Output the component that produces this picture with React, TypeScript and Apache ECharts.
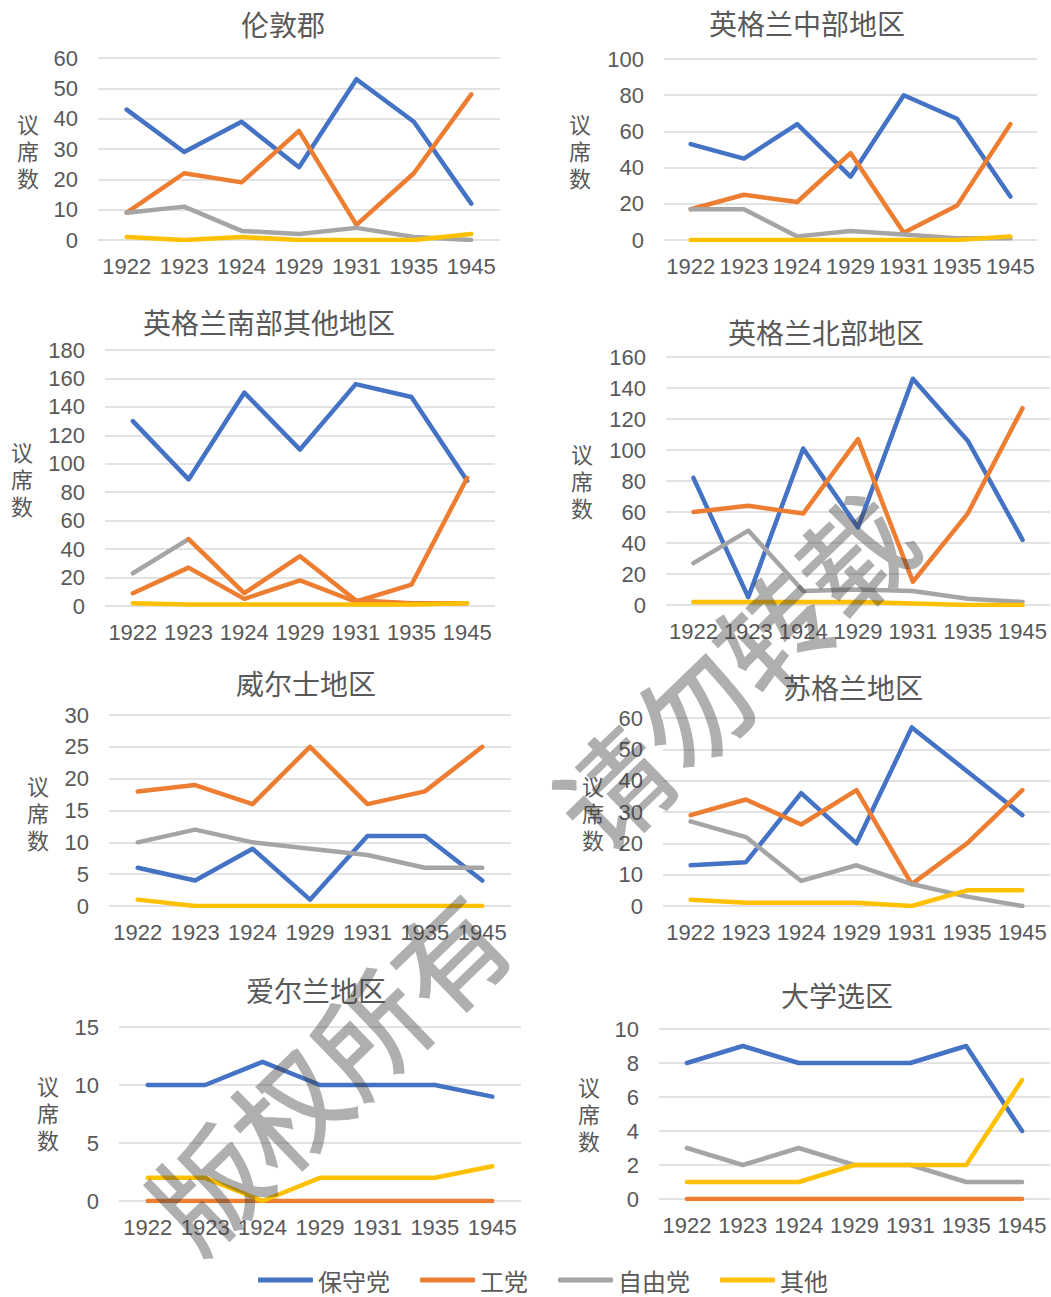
import React, { useEffect, useRef } from "react";
import * as echarts from "echarts";

const years = ["1922", "1923", "1924", "1929", "1931", "1935", "1945"];
const parties = ["保守党", "工党", "自由党", "其他"];
const partyColors = ["#4472C4", "#ED7D31", "#A5A5A5", "#FFC000"];
const regionNames = ["伦敦郡", "英格兰中部地区", "英格兰南部其他地区", "英格兰北部地区", "威尔士地区", "苏格兰地区", "爱尔兰地区", "大学选区"];

const londonCon = [43, 29, 39, 24, 53, 39, 12];
const londonLab = [9, 22, 19, 36, 5, 22, 48];
const londonLib = [9, 11, 3, 2, 4, 1, 0];
const londonOth = [1, 0, 1, 0, 0, 0, 2];

const midlandsCon = [53, 45, 64, 35, 80, 67, 24];
const midlandsLab = [17, 25, 21, 48, 4, 19, 64];
const midlandsLib = [17, 17, 2, 5, 3, 1, 1];
const midlandsOth = [0, 0, 0, 0, 0, 0, 2];

const southCon = [130, 89, 150, 110, 156, 147, 88];
const southLab = [9, 27, 5, 18, 3, 15, 90];
const southLib = [23, 47, 9, 35, 4, 2, 2];
const southOth = [2, 1, 1, 1, 1, 1, 2];

const northCon = [82, 5, 101, 50, 146, 106, 42];
const northLab = [60, 64, 59, 107, 15, 59, 127];
const northLib = [27, 48, 9, 10, 9, 4, 2];
const northOth = [2, 2, 2, 2, 1, 0, 0];

const walesCon = [6, 4, 9, 1, 11, 11, 4];
const walesLab = [18, 19, 16, 25, 16, 18, 25];
const walesLib = [10, 12, 10, 9, 8, 6, 6];
const walesOth = [1, 0, 0, 0, 0, 0, 0];

const scotlandCon = [13, 14, 36, 20, 57, 43, 29];
const scotlandLab = [29, 34, 26, 37, 7, 20, 37];
const scotlandLib = [27, 22, 8, 13, 7, 3, 0];
const scotlandOth = [2, 1, 1, 1, 0, 5, 5];

const irelandCon = [10, 10, 12, 10, 10, 10, 9];
const irelandLab = [0, 0, 0, 0, 0, 0, 0];
const irelandLib = [null, null, null, null, null, null, null];
const irelandOth = [2, 2, 0, 2, 2, 2, 3];

const univCon = [8, 9, 8, 8, 8, 9, 4];
const univLab = [0, 0, 0, 0, 0, 0, 0];
const univLib = [3, 2, 3, 2, 2, 1, 1];
const univOth = [1, 1, 1, 2, 2, 2, 7];

const yMaxes = [60, 100, 180, 160, 30, 60, 15, 10];
const ySteps = [10, 20, 20, 20, 5, 10, 5, 2];
const yAxisNameChars = ["议", "席", "数"];
const watermarkTexts = ["版权所有", "请勿转载"];

const regionData = [
  [londonCon, londonLab, londonLib, londonOth],
  [midlandsCon, midlandsLab, midlandsLib, midlandsOth],
  [southCon, southLab, southLib, southOth],
  [northCon, northLab, northLib, northOth],
  [walesCon, walesLab, walesLib, walesOth],
  [scotlandCon, scotlandLab, scotlandLib, scotlandOth],
  [irelandCon, irelandLab, irelandLib, irelandOth],
  [univCon, univLab, univLib, univOth],
];

// layout (pixels)
const layout = [
  { l: 98, r: 500, t: 58, b: 240, tx: 283, ty: 24, nx: 28, ny: 150 },
  { l: 664, r: 1037, t: 59, b: 240, tx: 807, ty: 23, nx: 580, ny: 150 },
  { l: 105, r: 495, t: 350, b: 606, tx: 269, ty: 322, nx: 22, ny: 478 },
  { l: 666, r: 1050, t: 357, b: 605, tx: 826, ty: 332, nx: 582, ny: 480 },
  { l: 109, r: 511, t: 715, b: 906, tx: 306, ty: 683, nx: 38, ny: 812 },
  { l: 663, r: 1050, t: 718, b: 906, tx: 853, ty: 687, nx: 593, ny: 812 },
  { l: 119, r: 521, t: 1027, b: 1201, tx: 316, ty: 990, nx: 48, ny: 1112 },
  { l: 659, r: 1050, t: 1029, b: 1199, tx: 837, ty: 995, nx: 589, ny: 1113 },
];
const watermarkPos = [
  { x: 326, y: 1068 },
  { x: 731, y: 668 },
];

const FONT = "'Liberation Sans', 'Noto Sans CJK SC', sans-serif";
const CJK = "'Noto Sans CJK SC', sans-serif";
const TEXT = "#595959";

function lineSeries(name: string, color: string, idx: number, data: (number | null)[]) {
  return {
    type: "line",
    name,
    xAxisIndex: idx,
    yAxisIndex: idx,
    data,
    showSymbol: false,
    symbol: "none",
    connectNulls: false,
    color,
    lineStyle: { width: 4.5, color, cap: "round", join: "round" },
    emphasis: { disabled: true },
  };
}

function centeredText(text: string, x: number, y: number, fontSize: number, extra: any = {}) {
  return {
    type: "text",
    x,
    y,
    z: 50,
    style: {
      text,
      fill: TEXT,
      fontSize,
      fontFamily: CJK,
      align: "center",
      verticalAlign: "middle",
      textAlign: "center",
      textVerticalAlign: "middle",
      ...extra,
    },
  };
}

export default function App() {
  const ref = useRef<HTMLDivElement>(null);
  useEffect(() => {
    if (!ref.current) return;
    const chart = echarts.init(ref.current, null, { renderer: "svg" });

    const grids = layout.map((p) => ({ left: p.l, top: p.t, width: p.r - p.l, height: p.b - p.t, containLabel: false }));
    const xAxes = layout.map((_, i) => ({
      type: "category",
      gridIndex: i,
      data: years,
      boundaryGap: true,
      axisLine: { show: false },
      axisTick: { show: false },
      splitLine: { show: false },
      axisLabel: { interval: 0, hideOverlap: false, margin: 15, fontSize: 22, color: TEXT, fontFamily: FONT },
    }));
    const yAxes = layout.map((_, i) => ({
      type: "value",
      gridIndex: i,
      min: 0,
      max: yMaxes[i],
      interval: ySteps[i],
      axisLine: { show: false },
      axisTick: { show: false },
      splitLine: { lineStyle: { color: "#D9D9D9", width: 1.5 } },
      axisLabel: { margin: 20, fontSize: 22, color: TEXT, fontFamily: FONT },
    }));

    const series: any[] = [];
    regionData.forEach((arrs, i) => {
      arrs.forEach((d, j) => {
        if (i === 2 && j === 2) {
          // 英格兰南部其他地区: 自由党 line changes colour after 1923
          const first = d.map((v, k) => (k <= 1 ? v : null));
          const rest = d.map((v, k) => (k >= 1 ? v : null));
          series.push(lineSeries(parties[2], partyColors[2], i, first));
          series.push(lineSeries("自由党 ", partyColors[1], i, rest));
        } else {
          series.push(lineSeries(parties[j], partyColors[j], i, d));
        }
      });
    });

    const graphics: any[] = [];
    layout.forEach((p, i) => {
      graphics.push(centeredText(regionNames[i], p.tx, p.ty, 28));
      yAxisNameChars.forEach((c, k) => {
        graphics.push(centeredText(c, p.nx, p.ny + (k - 1) * 27, 22));
      });
    });
    watermarkTexts.forEach((t, i) => {
      graphics.push({
        type: "text",
        x: watermarkPos[i].x,
        y: watermarkPos[i].y,
        rotation: (44 * Math.PI) / 180,
        z: 100,
        silent: true,
        style: {
          text: t,
          fill: "#404040",
          opacity: 0.42,
          fontSize: 112,
          fontWeight: 500,
          fontFamily: CJK,
          align: "center",
          verticalAlign: "middle",
          textAlign: "center",
          textVerticalAlign: "middle",
        },
      });
    });

    chart.setOption({
      animation: false,
      backgroundColor: "#ffffff",
      grid: grids,
      xAxis: xAxes,
      yAxis: yAxes,
      series,
      legend: {
        data: parties,
        left: 253,
        top: 1263,
        icon: "roundRect",
        itemWidth: 55,
        itemHeight: 5,
        itemGap: 30,
        textStyle: { fontSize: 24, lineHeight: 24, color: TEXT, fontFamily: CJK },
        selectedMode: false,
      },
      graphic: graphics,
    });
    return () => chart.dispose();
  }, []);
  return <div ref={ref} style={{ position: "absolute", left: 0, top: 0, width: 1051, height: 1297 }} />;
}
